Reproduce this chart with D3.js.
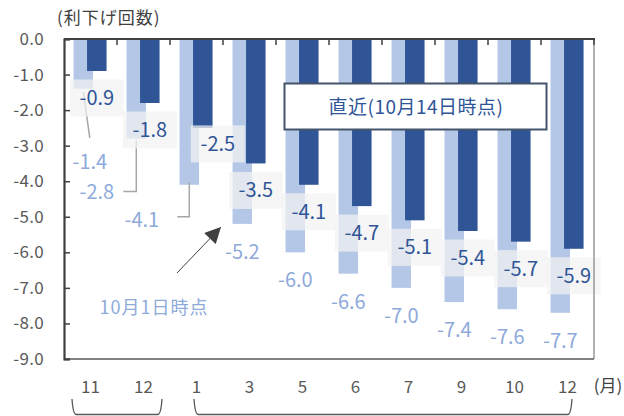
<!DOCTYPE html>
<html><head><meta charset="utf-8">
<script src="https://cdn.jsdelivr.net/npm/d3@7"></script>
<style>
html,body{margin:0;padding:0;background:#fff;}
svg{display:block;font-family:"Noto Sans CJK JP","Noto Sans",sans-serif;}
</style></head>
<body><svg id="c" width="624" height="416"></svg>
<script>
const months = ["11","12","1","3","5","6","7","9","10","12"];
const oct1 = [-1.4,-2.8,-4.1,-5.2,-6.0,-6.6,-7.0,-7.4,-7.6,-7.7];
const oct14 = [-0.9,-1.8,-2.5,-3.5,-4.1,-4.7,-5.1,-5.4,-5.7,-5.9];
const yTicks = [0,-1,-2,-3,-4,-5,-6,-7,-8,-9];
const yTitle = "(利下げ回数)";
const xUnit = "(月)";
const calloutText = "直近(10月14日時点)";
const oct1Text = "10月1日時点";

const svg = d3.select("#c");
const L=64, R=594, T=39, B=359;
const x = d3.scaleBand().domain(d3.range(months.length)).range([L,R]).padding(0);
const y = d3.scaleLinear().domain([-9,0]).range([B,T]);
const bw = x.bandwidth();
const lightOff = bw*0.18, darkOff = bw*0.435, barW = bw*0.368;
const LIGHT="#b4c7e7", DARK="#2f5597", LTXT="#8eaadb", AX="#404040", GRY="#595959";

// bars
svg.append("g").selectAll("rect").data(oct1).join("rect")
  .attr("x",(d,i)=>x(i)+lightOff).attr("y",y(0))
  .attr("width",barW).attr("height",d=>y(d)-y(0)).attr("fill",LIGHT);
svg.append("g").selectAll("rect").data(oct14).join("rect")
  .attr("x",(d,i)=>x(i)+darkOff).attr("y",y(0))
  .attr("width",barW).attr("height",d=>y(d)-y(0)).attr("fill",DARK);

const lc = i => x(i)+lightOff+barW/2;
const dc = i => x(i)+darkOff+barW/2;

// leader lines for first three light labels
const lead = svg.append("g").attr("fill","none").attr("stroke","#a6a6a6").attr("stroke-width",1.5);
lead.append("path").attr("d",`M${lc(0)},${y(oct1[0])+3} L${lc(0)+6.5},${y(oct1[0])+49}`);
lead.append("path").attr("d",`M${lc(1)},${y(oct1[1])+2} V${y(oct1[1])+53} H${lc(1)-13}`);
lead.append("path").attr("d",`M${lc(2)},${y(oct1[2])-2} V${y(oct1[2])+32} H${lc(2)-12}`);

// light labels
const lightNudge = [[6.5,73],[-39.5,53],[-47.5,35]];
svg.append("g").selectAll("text").data(oct1).join("text")
  .attr("x",(d,i)=>lc(i)+(lightNudge[i]?lightNudge[i][0]:0))
  .attr("y",(d,i)=>y(d)+(lightNudge[i]?lightNudge[i][1]:28))
  .attr("dy","0.35em").attr("text-anchor","middle")
  .attr("font-size",20).attr("fill",LTXT)
  .text(d=>d.toFixed(1));

// dark labels with boxes
const darkNudge = {2:[15,-11]};
const dg = svg.append("g").selectAll("g").data(oct14).join("g")
  .attr("transform",(d,i)=>{
    const n = darkNudge[i]||[0,0];
    return `translate(${dc(i)+n[0]},${y(d)+27+n[1]})`;
  });
dg.append("rect").attr("x",-27).attr("y",-18.5).attr("width",54).attr("height",37)
  .attr("fill","#f2f2f2").attr("fill-opacity",0.72);
dg.append("text").attr("text-anchor","middle").attr("dy","0.35em")
  .attr("font-size",20).attr("fill",DARK).text(d=>d.toFixed(1));

// plot frame
svg.append("line").attr("x1",R).attr("x2",R).attr("y1",T).attr("y2",B).attr("stroke","#7f7f7f").attr("stroke-width",1.2);
svg.append("line").attr("x1",L).attr("x2",R).attr("y1",B).attr("y2",B).attr("stroke",GRY).attr("stroke-width",1.5);

// top category axis (at 0), ticks inward
svg.append("line").attr("x1",L).attr("x2",R+1).attr("y1",T).attr("y2",T).attr("stroke",AX).attr("stroke-width",2);
svg.append("g").selectAll("line").data(d3.range(1,months.length+1)).join("line")
  .attr("x1",i=>i<months.length?x(i):R).attr("x2",i=>i<months.length?x(i):R)
  .attr("y1",T).attr("y2",T+6).attr("stroke",AX).attr("stroke-width",1.5);

// left value axis
const yAxis = d3.axisRight(y).tickValues(yTicks).tickSize(6).tickFormat("");
const ya = svg.append("g").attr("transform",`translate(${L},0)`).call(yAxis);
ya.select(".domain").attr("stroke",AX).attr("stroke-width",2.2);
ya.selectAll(".tick line").attr("stroke",AX).attr("stroke-width",1.5);
svg.append("g").selectAll("text").data(yTicks).join("text")
  .attr("x",44).attr("y",d=>y(d)).attr("dy","0.35em").attr("text-anchor","end")
  .attr("font-size",17).attr("fill",GRY).attr("letter-spacing",0.3).text(d=>d.toFixed(1));

// bottom month labels
svg.append("g").selectAll("text").data(months).join("text")
  .attr("x",(d,i)=>x(i)+bw/2).attr("y",387).attr("dy","0.35em").attr("text-anchor","middle")
  .attr("font-size",17).attr("fill",GRY).text(d=>d);
svg.append("text").attr("x",608).attr("y",386).attr("dy","0.35em").attr("text-anchor","middle")
  .attr("font-size",17).attr("fill",AX).text(xUnit);

// title
svg.append("text").attr("x",57).attr("y",18).attr("dy","0.35em")
  .attr("font-size",17).attr("fill",AX).attr("letter-spacing",1).text(yTitle);

// brackets
const br = svg.append("g").attr("fill","none").attr("stroke",GRY).attr("stroke-width",1.3);
function bracket(x1,x2){
  br.append("path").attr("d",`M${x1},399 Q${x1+1},414 ${x1+4},414.5 L${x2-4},414.5 Q${x2-1},414 ${x2},399`);
}
bracket(x(0)+8, x(1)+bw-8);
bracket(x(2)+24, x(9)+31);

// callout
svg.append("rect").attr("x",284.5).attr("y",83.5).attr("width",262).attr("height",46)
  .attr("fill","#fff").attr("stroke","#44546a").attr("stroke-width",2);
svg.append("text").attr("x",416).attr("y",107).attr("dy","0.35em").attr("text-anchor","middle")
  .attr("font-size",19).attr("fill",DARK).attr("letter-spacing",0.5).text(calloutText);

// arrow
svg.append("defs").append("marker").attr("id","ah").attr("viewBox","0 0 10 10")
  .attr("refX",10).attr("refY",5).attr("markerWidth",18).attr("markerHeight",16)
  .attr("markerUnits","userSpaceOnUse").attr("orient","auto")
  .append("path").attr("d","M0,0 L10,5 L0,10 Z").attr("fill",AX);
svg.append("line").attr("x1",177).attr("y1",273).attr("x2",221).attr("y2",227)
  .attr("stroke",AX).attr("stroke-width",1).attr("marker-end","url(#ah)");
svg.append("text").attr("x",154).attr("y",308).attr("dy","0.35em").attr("text-anchor","middle")
  .attr("font-size",18).attr("fill",LTXT).attr("letter-spacing",1).text(oct1Text);
</script></body></html>
